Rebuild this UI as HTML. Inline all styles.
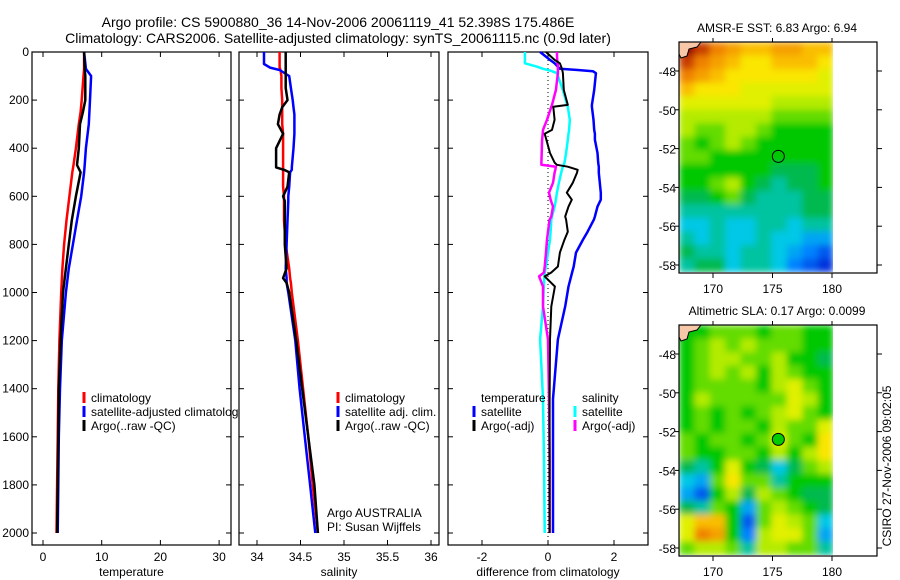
<!DOCTYPE html>
<html><head><meta charset="utf-8"><style>
html,body{margin:0;padding:0;background:#fff}
svg{display:block;font-family:"Liberation Sans",sans-serif}
</style></head><body>
<svg id="s" width="900" height="580" viewBox="0 0 900 580">
<defs><clipPath id="c1"><rect x="0" y="0" width="238" height="580"/></clipPath>
<clipPath id="cm1"><rect x="679" y="42" width="154" height="230"/></clipPath>
<clipPath id="cm2"><rect x="679" y="325" width="154" height="230"/></clipPath>
<filter id="bl" x="-5%" y="-5%" width="110%" height="110%"><feGaussianBlur stdDeviation="3.5" edgeMode="duplicate"/></filter></defs>
<text x="338" y="27" font-size="14" text-anchor="middle">Argo profile: CS 5900880_36 14-Nov-2006 20061119_41 52.398S 175.486E</text>
<text x="338" y="43" font-size="14" text-anchor="middle">Climatology: CARS2006. Satellite-adjusted climatology: synTS_20061115.nc (0.9d later)</text>
<g id="g"></g>
</svg>
<script>
// ---- data ----
const tDepth=[0,70,100,200,250,300,400,470,500,600,700,800,900,1000,1200,1400,1600,1800,2000];
const tempClim=[7.0,7.0,6.9,6.6,6.4,6.1,5.6,5.2,5.0,4.5,4.0,3.6,3.3,3.1,2.8,2.6,2.5,2.4,2.3];
const tempSat=[7.0,7.3,8.2,8.0,7.9,7.8,7.3,7.1,7.0,6.5,5.8,5.1,4.4,3.9,3.2,2.9,2.7,2.6,2.5];
const tempArgo=[7.0,7.1,7.2,7.2,6.8,6.3,6.1,5.8,6.4,5.6,4.9,4.4,3.9,3.4,3.0,2.7,2.6,2.5,2.4];
const sDepth=[0,50,65,75,100,150,200,230,260,300,340,400,480,490,500,560,600,620,700,800,900,940,960,1000,1200,1400,1600,1800,2000];
const salClim=[34.26,34.26,34.26,34.27,34.28,34.28,34.29,34.29,34.29,34.29,34.3,34.3,34.3,34.3,34.3,34.3,34.31,34.31,34.31,34.33,34.37,34.38,34.39,34.4,34.47,34.53,34.59,34.64,34.7];
const salSat=[34.08,34.08,34.15,34.26,34.37,34.39,34.41,34.42,34.43,34.43,34.43,34.42,34.4,34.4,34.38,34.37,34.36,34.36,34.35,34.34,34.33,34.34,34.34,34.36,34.44,34.49,34.55,34.61,34.67];
const salArgo=[34.33,34.33,34.33,34.33,34.33,34.33,34.35,34.29,34.26,34.24,34.3,34.22,34.22,34.31,34.37,34.35,34.3,34.32,34.32,34.32,34.34,34.3,34.34,34.37,34.45,34.52,34.59,34.66,34.7];
const dDepth=[0,33,47,61,70,75,80,88,158,220,228,282,324,340,365,420,460,469,477,490,502,544,585,614,643,684,697,747,780,834,892,917,933,975,1058,1195,1443,1700,2000];
const dTempSat=[-0.24,0.06,0.2,0.3,0.36,0.9,1.36,1.45,1.4,1.33,1.33,1.38,1.4,1.42,1.42,1.5,1.52,1.53,1.54,1.54,1.54,1.57,1.6,1.6,1.5,1.42,1.39,1.2,1.06,0.85,0.78,0.73,0.7,0.62,0.52,0.3,0.15,0.15,0.15];
const dTempArgo=[-0.06,0.2,0.36,0.4,0.42,0.43,0.44,0.45,0.48,0.6,0.16,0.2,0.12,-0.1,-0.05,0.06,0.2,0.27,0.6,0.9,0.88,0.75,0.57,0.72,0.62,0.52,0.55,0.6,0.5,0.36,0.3,0.1,-0.1,0.21,0.1,0.06,0.05,0.05,0.05];
const dSalArgo=[0.27,0.28,0.29,0.3,0.3,0.3,0.3,0.3,0.24,0.12,0.1,-0.03,-0.15,-0.16,-0.18,-0.19,-0.2,-0.2,0.24,0.22,0.2,0.15,0.03,0.08,0.15,0.1,0.05,0.0,-0.03,-0.06,-0.1,-0.12,-0.27,-0.15,-0.15,0.0,0.03,0.05,0.05];
const dSalSat=[-0.7,-0.7,-0.7,-0.33,-0.15,0.0,0.12,0.27,0.45,0.58,0.6,0.66,0.64,0.62,0.6,0.55,0.5,0.48,0.45,0.42,0.4,0.33,0.27,0.24,0.2,0.12,0.1,0.08,0.06,0.0,-0.06,-0.1,-0.11,-0.13,-0.15,-0.24,-0.15,-0.12,-0.1];
const tempTicks=[0,10,20,30], salTicks=[34,34.5,35,35.5,36], diffTicks=[-2,0,2], depthTicks=[0,200,400,600,800,1000,1200,1400,1600,1800,2000];
const latTicks=[-48,-50,-52,-54,-56,-58], lonTicks=[170,175,180];
const sstGrid=[
[10,9,8,7.5,7,7,7.5,7.5,7,7],[9,8,7.5,7,6.5,6.5,7,7,7,6.5],[8,7.5,7,6.5,6.5,6.5,6.5,6.5,6.5,6],
[7,6.5,6.5,6.5,6,6,6,6,6,6],[6,6,6,6,6,6,5.5,5.5,5.5,5.5],[5.5,5.5,5.5,5.5,5.5,5.5,5,5,5,5],
[5.5,5,5,5.5,5.5,5,4.5,4.5,4.5,4.5],[5,4.5,5,5.5,5,4.5,4.5,4.5,4.5,4.5],[5,5,4.5,4.5,4.5,4.5,4.5,4.5,4.5,4.5],
[4.5,4.5,4.5,4.5,4.5,4.5,4,4,4,4.5],[4.5,4.5,5,5.5,4.5,4,3.5,4,4,4.5],[4,4,4.5,5,4,3.5,3.5,3.5,4,4],
[3.5,3.5,3.5,3.5,3.5,3.5,3.5,3.5,4,4],[3,3,3.5,3,3,3.5,3.5,3,3.5,3.5],[3.5,3,3.5,3,3,3.5,3,3,2.5,2.5],
[4,3.5,3.5,3,3.5,3.5,3,2.5,2,1.5],[3.5,4,4,3,3.5,3.5,3,2,1.5,1]];
const slaGrid=[
[4.5,4.5,5,5,5,4.5,5,5,4.5,4.5],[4.5,5,5.5,5,5.5,5,5,5,4.5,4.5],[4.5,5,5.5,5.5,5,5,5.5,4.5,4.5,4],
[4.5,5,5.5,5,5.5,4.5,5.5,5,4.5,4.5],[4.5,5,5,5,5,4.5,5.5,6,5,4.5],[4.5,5.5,5,5,5,5,5,6,5.5,4.5],
[4.5,5,4.5,5,4.5,5,5.5,6,5,4.5],[4.5,5,4.5,5,5,4.5,5.5,5,5,6],[5,4.5,5,5,4.5,5,6,5,4.5,6.5],
[5,4.5,4.5,5,5,4.5,5.5,4.5,5.5,6.5],[4,3.5,4.5,6,4.5,4,3,4,5,5.5],[3,2.5,5,6.5,5,5,3.5,4.5,4.5,4.5],
[2.5,1.5,4.5,5.5,4,5.5,5,4.5,4,4],[4,3.5,5,4.5,2.5,5,5.5,5,4.5,4],[6,7,7,4.5,1.5,5,6,5.5,5,3],
[6,8,7.5,4.5,2,5.5,6,6,5,2.5],[5,5.5,5.5,5,3.5,5.5,5.5,5,5,3.5]];

const NS='http://www.w3.org/2000/svg', G=document.getElementById('g');
function el(tag,attrs,parent){const e=document.createElementNS(NS,tag);for(const k in attrs)e.setAttribute(k,attrs[k]);(parent||G).appendChild(e);return e;}
function txt(x,y,s,attrs,parent){const e=el('text',Object.assign({x:x,y:y,'font-size':12},attrs||{}),parent);e.textContent=s;return e;}
const yD=d=>52+d*0.2405;
const xT=v=>43+v*5.87, xS=v=>257+(v-34)*87, xDf=v=>548+v*33;

function panel(name,x0,x1,xf,ticks,label,showY){
  const b=el('rect',{x:x0,y:52,width:x1-x0,height:493,fill:'none',stroke:'#000','stroke-width':1.2});
  
  
  ticks.forEach(t=>{const x=xf(t);
    el('line',{x1:x,x2:x,y1:545,y2:540,stroke:'#000'});el('line',{x1:x,x2:x,y1:52,y2:57,stroke:'#000'});
    const tl=txt(x,561,String(t),{'text-anchor':'middle'});
    
    });
  depthTicks.forEach(d=>{const y=yD(d);
    el('line',{x1:x0,x2:x0+5,y1:y,y2:y,stroke:'#000'});el('line',{x1:x1,x2:x1-5,y1:y,y2:y,stroke:'#000'});
    if(showY){const tl=txt(x0-3,y+4,String(d),{'text-anchor':'end'});
      
      }});
  const at=txt((x0+x1)/2,576,label,{'text-anchor':'middle'});
  
  
}
function series(name,depths,vals,xf,color,w){
  const pts=depths.map((d,i)=>xf(vals[i]).toFixed(1)+','+yD(d).toFixed(1)).join(' ');
  const p=el('polyline',{points:pts,fill:'none',stroke:color,'stroke-width':w||2.5,'stroke-linejoin':'round'});
  
  
}
function legendRow(x,y,color,label,name,parent){
  el('line',{x1:x,x2:x,y1:y-10,y2:y+1,stroke:color,'stroke-width':3},parent);
  const t=txt(x+7,y,label,{},parent);
  
  
}

panel('temperature',32,231,xT,tempTicks,'temperature',true);
series('temp-climatology-line',tDepth,tempClim,xT,'#f00');
series('temp-satellite-line',tDepth,tempSat,xT,'#00f');
series('temp-argo-line',tDepth,tempArgo,xT,'#000');
const lg1=el('g',{'clip-path':'url(#c1)'});
legendRow(84,402,'#f00','climatology','legend-climatology',lg1);
legendRow(84,416,'#00f','satellite-adjusted climatology','legend-satellite-adjusted',lg1);
legendRow(84,430,'#000','Argo(..raw -QC)','legend-argo',lg1);

panel('salinity',239,439,xS,salTicks,'salinity',false);
series('sal-climatology-line',sDepth,salClim,xS,'#f00');
series('sal-satellite-line',sDepth,salSat,xS,'#00f');
series('sal-argo-line',sDepth,salArgo,xS,'#000');
legendRow(338,402,'#f00','climatology','legend-sal-climatology');
legendRow(338,416,'#00f','satellite adj. clim.','legend-sal-satellite');
legendRow(338,430,'#000','Argo(..raw -QC)','legend-sal-argo');
let t=txt(327,517,'Argo AUSTRALIA');
t=txt(327,531,'PI: Susan Wijffels');

panel('difference',448,648,xDf,diffTicks,'difference from climatology',false);
const zl=el('line',{x1:xDf(0),x2:xDf(0),y1:52,y2:545,stroke:'#000','stroke-width':1,'stroke-dasharray':'1,3'});


series('diff-temp-satellite-line',dDepth,dTempSat,xDf,'#00f');
series('diff-sal-satellite-line',dDepth,dSalSat,xDf,'#0ff');
series('diff-sal-argo-line',dDepth,dSalArgo,xDf,'#f0f');
series('diff-temp-argo-line',dDepth,dTempArgo,xDf,'#000',2);
t=txt(481,402,'temperature');
t=txt(582,402,'salinity');
legendRow(474,416,'#00f','satellite','legend-diff-temp-satellite');
legendRow(474,430,'#000','Argo(-adj)','legend-diff-temp-argo');
legendRow(575,416,'#0ff','satellite','legend-diff-sal-satellite');
legendRow(575,430,'#f0f','Argo(-adj)','legend-diff-sal-argo');

// colour palette for maps
const palV=[0,1,2,3,3.5,4,4.5,5,5.5,6,6.5,7,8,9,10];
const palC=[[0,0,140],[0,50,220],[0,130,255],[0,200,230],[0,195,160],[0,185,80],[0,200,0],[100,220,0],[180,235,0],[225,240,0],[250,230,0],[250,190,0],[240,130,0],[200,60,0],[150,0,0]];
function col(v){v=Math.max(0,Math.min(10,v));let i=0;while(i<palV.length-2&&v>palV[i+1])i++;
  const f=(v-palV[i])/(palV[i+1]-palV[i]);const a=palC[i],b=palC[i+1];
  return 'rgb('+a.map((x,k)=>Math.round(x+(b[k]-x)*f)).join(',')+')';}
function map(name,top,title,grid,circleFill,clip){
  const xL=lon=>713+(lon-170)*11.9, yL=lat=>top+29+(-48-lat)*19.4;
  const x0=679,x1=833,y0=top,y1=top+230;
  const rows=grid.length,cols=grid[0].length,cw=(x1-x0)/cols,ch=(y1-y0)/rows;
  const cg=el('g',{'clip-path':'url(#'+clip+')'});
  const bg=el('g',{filter:'url(#bl)'},cg);
  grid.forEach((row,r)=>row.forEach((v,c)=>{
    const cell=el('rect',{x:x0+c*cw,y:y0+r*ch,width:cw+0.5,height:ch+0.5,fill:col(v)},bg);
    
    }));
  const land=el('path',{d:`M${x0} ${y0} L${x0+22} ${y0} L${x0+18} ${y0+5} L${x0+10} ${y0+7} L${x0+8} ${y0+14} L${x0+2} ${y0+16} L${x0} ${y0+12} Z`,fill:'#f7c8a8',stroke:'#000','stroke-width':1});
  
  
  const box=el('rect',{x:x0,y:y0,width:877-x0,height:231,fill:'none',stroke:'#000','stroke-width':1.2});
  
  
  latTicks.forEach(l=>{const y=yL(l);el('line',{x1:877,x2:882,y1:y,y2:y,stroke:'#000'});el('line',{x1:x0,x2:x0-4,y1:y,y2:y,stroke:'#000'});
    const tl=txt(676,y+5,String(l),{'text-anchor':'end'});
    
    });
  lonTicks.forEach(l=>{const x=xL(l);el('line',{x1:x,x2:x,y1:y0+231,y2:y0+236,stroke:'#000'});el('line',{x1:x,x2:x,y1:y0,y2:y0-4,stroke:'#000'});
    const tl=txt(x,y0+251,String(l),{'text-anchor':'middle'});
    
    });
  const c=el('circle',{cx:xL(175.49),cy:yL(-52.4),r:6,fill:circleFill,stroke:'#000','stroke-width':1});
  
  
  const tt=txt(777,top-10,title,{'text-anchor':'middle'});
  
  
}
map('sst-map',42,'AMSR-E SST: 6.83 Argo: 6.94',sstGrid,'none','cm1');
map('sla-map',325,'Altimetric SLA: 0.17 Argo: 0.0099',slaGrid,'#0c0','cm2');
t=txt(0,0,'CSIRO 27-Nov-2006 09:02:05',{'text-anchor':'middle',transform:'translate(891,466) rotate(-90)'});


</script>
</body></html>
